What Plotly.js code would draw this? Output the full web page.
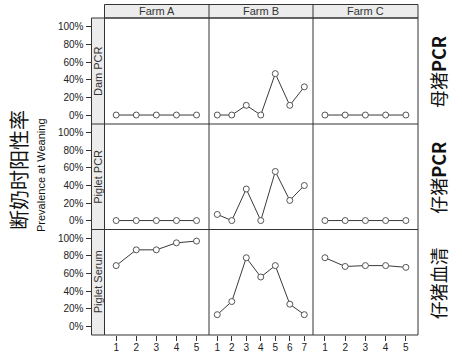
<!DOCTYPE html>
<html>
<head>
<meta charset="utf-8">
<script src="https://cdn.plot.ly/plotly-3.0.1.min.js"></script>
<style>html,body{margin:0;padding:0;background:#fff;}#chart{width:462px;height:353px;}</style>
</head>
<body>
<div id="chart"></div>
<script>
// ---- data ----
const farms = ['Farm A', 'Farm B', 'Farm C'];
const measures = ['Dam PCR', 'Piglet PCR', 'Piglet Serum'];
const measuresCN = ['母猪<b>PCR</b>', '仔猪<b>PCR</b>', '仔猪血清'];
const weeksA = [1, 2, 3, 4, 5];
const weeksB = [1, 2, 3, 4, 5, 6, 7];
const weeksC = [1, 2, 3, 4, 5];
const damPcrA = [0, 0, 0, 0, 0];
const damPcrB = [0, 0, 11, 0, 47, 11, 32];
const damPcrC = [0, 0, 0, 0, 0];
const pigletPcrA = [0, 0, 0, 0, 0];
const pigletPcrB = [7, 0, 36, 0, 56, 23, 40];
const pigletPcrC = [0, 0, 0, 0, 0];
const pigletSerumA = [69, 87, 87, 95, 97];
const pigletSerumB = [13, 28, 78, 56, 69, 25, 13];
const pigletSerumC = [78, 68, 69, 69, 67];
const yTickVals = [0, 20, 40, 60, 80, 100];
const yTickText = ['0%', '20%', '40%', '60%', '80%', '100%'];
const yTitleCN = '断奶时阳性率';
const yTitleEN = 'Prevalence at Weaning';

// ---- geometry (pixels) ----
const W = 462, H = 353;
const px = v => v / W;
const py = v => 1 - v / H;
const colEdges = [104.5, 209, 313, 418];
const rowEdges = [18, 124, 229.5, 335];
const stripTop = 4.5, stripLeft = 91.5;

const xs = [weeksA, weeksB, weeksC];
const series = [
  [damPcrA, damPcrB, damPcrC],
  [pigletPcrA, pigletPcrB, pigletPcrC],
  [pigletSerumA, pigletSerumB, pigletSerumC]
];

const traces = [];
for (let r = 0; r < 3; r++) {
  for (let c = 0; c < 3; c++) {
    traces.push({
      type: 'scatter', mode: 'lines+markers',
      x: xs[c], y: series[r][c],
      xaxis: c === 0 ? 'x' : 'x' + (c + 1),
      yaxis: r === 0 ? 'y' : 'y' + (r + 1),
      line: {color: '#3a3a3a', width: 1},
      marker: {symbol: 'circle', size: 6, color: '#ffffff', line: {color: '#555555', width: 1}},
      showlegend: false, hoverinfo: 'skip', cliponaxis: false
    });
  }
}

const layout = {
  width: W, height: H,
  margin: {l: 0, r: 0, t: 0, b: 0},
  paper_bgcolor: '#ffffff', plot_bgcolor: '#ffffff',
  showlegend: false,
  font: {family: 'Liberation Sans, Arial, sans-serif', color: '#222'},
  shapes: [], annotations: []
};

const xRanges = [[0.42, 5.62], [0.43, 7.6], [0.41, 5.6]];
for (let c = 0; c < 3; c++) {
  const key = c === 0 ? 'xaxis' : 'xaxis' + (c + 1);
  layout[key] = {
    domain: [px(colEdges[c]), px(colEdges[c + 1])],
    range: xRanges[c], anchor: 'y3',
    tickmode: 'array', tickvals: xs[c], ticktext: xs[c].map(String),
    ticks: 'outside', ticklen: 5, tickwidth: 1, tickcolor: '#333',
    ticklabelstandoff: -2,
    showgrid: false, zeroline: false, showline: false,
    tickfont: {size: 10, color: '#222'}
  };
}
for (let r = 0; r < 3; r++) {
  const key = r === 0 ? 'yaxis' : 'yaxis' + (r + 1);
  layout[key] = {
    domain: [py(rowEdges[r + 1]), py(rowEdges[r])],
    range: [-10.2, 110.2], anchor: 'free', position: px(stripLeft), side: 'left',
    tickmode: 'array', tickvals: yTickVals, ticktext: yTickText,
    ticks: 'outside', ticklen: 6, tickwidth: 1, tickcolor: '#333',
    showgrid: false, zeroline: false, showline: false,
    tickfont: {size: 10, color: '#222'}
  };
}

const S = layout.shapes, A = layout.annotations;
const lineStyle = {color: '#333333', width: 1};
// strips
S.push({type: 'rect', xref: 'paper', yref: 'paper', x0: px(colEdges[0]), x1: px(colEdges[3]), y0: py(rowEdges[0]), y1: py(stripTop), fillcolor: '#ececec', line: lineStyle});
S.push({type: 'rect', xref: 'paper', yref: 'paper', x0: px(stripLeft), x1: px(colEdges[0]), y0: py(rowEdges[3]), y1: py(rowEdges[0]), fillcolor: '#ececec', line: lineStyle});
// panels
S.push({type: 'rect', xref: 'paper', yref: 'paper', x0: px(colEdges[0]), x1: px(colEdges[3]), y0: py(rowEdges[3]), y1: py(rowEdges[0]), line: lineStyle});
for (let c = 1; c < 3; c++) {
  S.push({type: 'line', xref: 'paper', yref: 'paper', x0: px(colEdges[c]), x1: px(colEdges[c]), y0: py(rowEdges[3]), y1: py(stripTop), line: lineStyle});
}
for (let r = 1; r < 3; r++) {
  S.push({type: 'line', xref: 'paper', yref: 'paper', x0: px(stripLeft), x1: px(colEdges[3]), y0: py(rowEdges[r]), y1: py(rowEdges[r]), line: lineStyle});
}
// strip labels
for (let c = 0; c < 3; c++) {
  A.push({xref: 'paper', yref: 'paper', x: px((colEdges[c] + colEdges[c + 1]) / 2), y: py((stripTop + rowEdges[0]) / 2),
    text: farms[c], showarrow: false, xanchor: 'center', yanchor: 'middle', font: {size: 11, color: '#333'}});
}
for (let r = 0; r < 3; r++) {
  const cy = py((rowEdges[r] + rowEdges[r + 1]) / 2);
  A.push({xref: 'paper', yref: 'paper', x: px((stripLeft + colEdges[0]) / 2), y: cy,
    text: measures[r], textangle: -90, showarrow: false, xanchor: 'center', yanchor: 'middle', font: {size: 11, color: '#333'}});
  A.push({xref: 'paper', yref: 'paper', x: px(438), y: py((rowEdges[r] + rowEdges[r + 1]) / 2 + 1),
    text: measuresCN[r], textangle: -90, showarrow: false, xanchor: 'center', yanchor: 'middle',
    font: {size: 18, color: '#111', family: 'Noto Sans CJK SC, sans-serif'}});
}
A.push({xref: 'paper', yref: 'paper', x: px(18), y: py(170), text: yTitleCN, textangle: -90, showarrow: false,
  xanchor: 'center', yanchor: 'middle', font: {size: 20, color: '#111', family: 'Noto Sans CJK SC, sans-serif'}});
A.push({xref: 'paper', yref: 'paper', x: px(41), y: py(175), text: yTitleEN, textangle: -90, showarrow: false,
  xanchor: 'center', yanchor: 'middle', font: {size: 11, color: '#111'}});

Plotly.newPlot('chart', traces, layout, {staticPlot: true, displayModeBar: false});
</script>
</body>
</html>
